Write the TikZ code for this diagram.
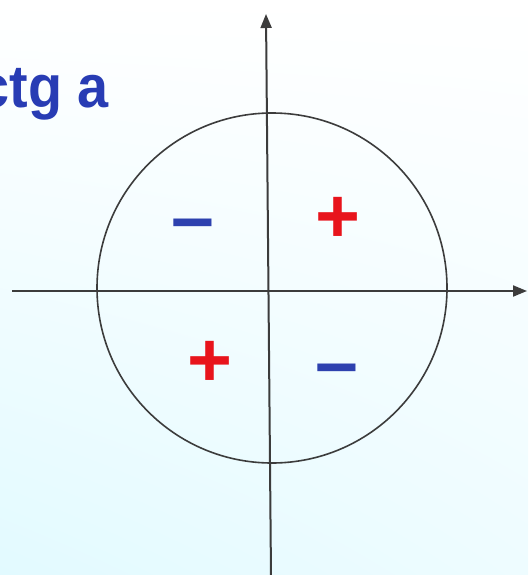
\documentclass[tikz,border=0pt]{standalone}
\usepackage{fontspec}
\setmainfont{Liberation Sans}
\newfontfamily\titlefont[FakeStretch=0.93]{Liberation Sans}
\usetikzlibrary{arrows.meta,shadings}
\definecolor{txtblue}{RGB}{40,60,180}
\definecolor{signblue}{RGB}{45,65,175}
\definecolor{signred}{RGB}{232,20,28}
\definecolor{axisgray}{RGB}{60,60,60}
\definecolor{bgcyan}{RGB}{226,250,255}
\definecolor{bgcyanb}{RGB}{238,252,255}
\tikzset{
  axisline/.style={draw=axisgray, line width=2pt, -{Triangle[length=14pt,width=11pt]}},
  unitcircle/.style={draw=axisgray, line width=1.6pt},
  sign/.style={font=\fontsize{77}{77}\selectfont\bfseries, inner sep=0pt, anchor=base},
}
\begin{document}
\begin{tikzpicture}[x=1pt,y=-1pt]
  \useasboundingbox (0,0) rectangle (528,575);
  \shade[lower left=bgcyan, lower right=bgcyanb, upper left=white, upper right=white] (0,575) rectangle (528,0);
  \coordinate (xl) at (12,291);
  \coordinate (xr) at (527,291);
  \coordinate (yb) at (271,576);
  \coordinate (yt) at (266,14);
  \coordinate (c) at (272,288);
  \draw[unitcircle] (c) circle[radius=175];
  \draw[axisline] (xl) -- (xr);
  \draw[axisline] (yb) -- (yt);
  \node[font=\titlefont\fontsize{60}{60}\selectfont\bfseries, text=txtblue, inner sep=0pt, anchor=base east] (title) at (109,108) {ctg a};
  \node[sign, text=signblue] (m1) at (193,243) {–};
  \node[sign, text=signred] (p1) at (338,242) {+};
  \node[sign, text=signred] (p2) at (210,386) {+};
  \node[sign, text=signblue] (m2) at (337,388) {–};
\end{tikzpicture}
\end{document}
